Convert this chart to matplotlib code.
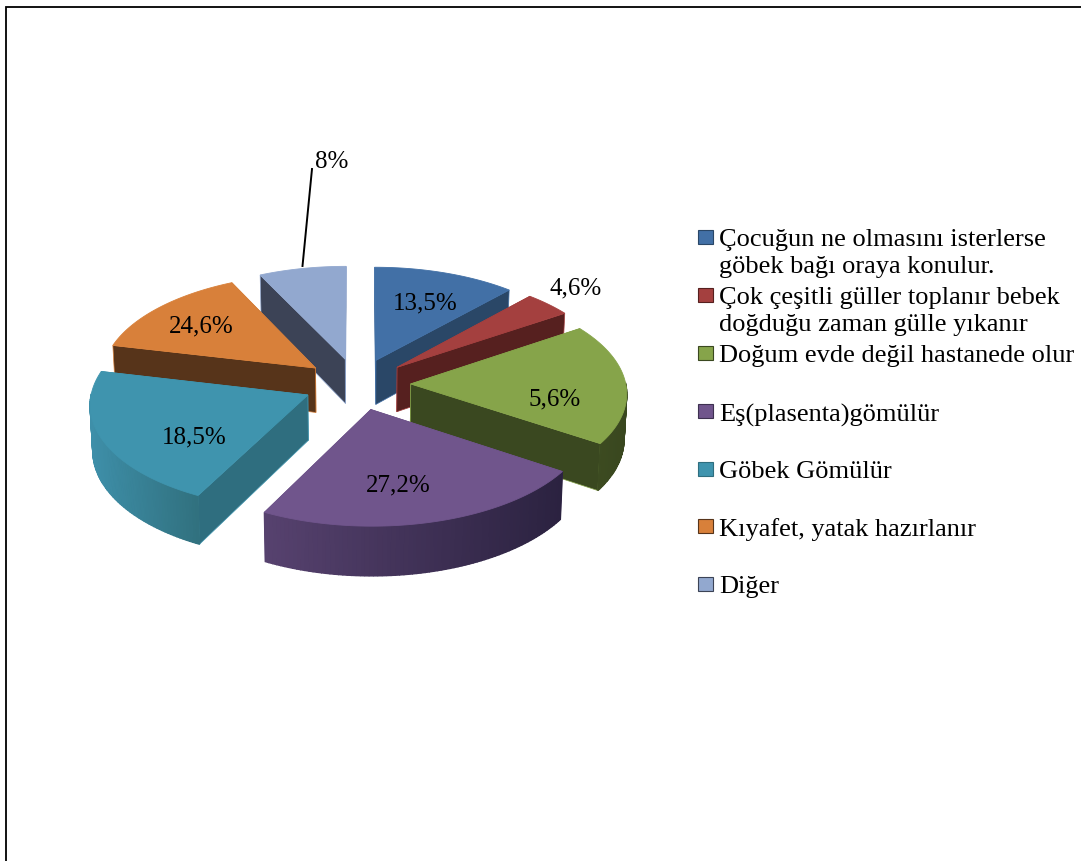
import numpy as np
import matplotlib
matplotlib.use('Agg')
import matplotlib.pyplot as plt
from matplotlib.colors import to_rgb
from matplotlib.patches import Rectangle

plt.rcParams['font.family'] = ['Liberation Serif', 'DejaVu Serif']

# slice sizes as drawn (percent of the circle), the printed labels differ from these
shares = [11.7, 3.9, 18.7, 23.25, 21.1, 14.2, 7.15]
value_labels = ['13,5%', '4,6%', '5,6%', '27,2%', '18,5%', '24,6%', '8%']
legend_labels = [
    'Çocuğun ne olmasını isterlerse\ngöbek bağı oraya konulur.',
    'Çok çeşitli güller toplanır bebek\ndoğduğu zaman gülle yıkanır',
    'Doğum evde değil hastanede olur',
    'Eş(plasenta)gömülür',
    'Göbek Gömülür',
    'Kıyafet, yatak hazırlanır',
    'Diğer',
]

top_colors = ['#4270a6', '#a4403f', '#86a44a', '#70558c', '#3f94ae', '#d8803a', '#92a8cf']
wall_colors = ['#2a4767', '#56201f', '#3a4820', '#3d3050', '#2f6e7f', '#57341a', '#3c4356']
rim_left = ['#2a4767', '#56201f', '#3f4e22', '#57426f', '#3e8fa9', '#57341a', '#3c4356']
rim_right = ['#2a4767', '#56201f', '#39471f', '#2b2240', '#31717f', '#57341a', '#3c4356']
label_xy = [(425.5, 303), (576, 288), (555, 399), (398, 485), (194, 437), (201, 326), (332, 162)]
legend_y = [238, 296, 354, 412, 470, 527, 585]

# back to front
draw_order = [6, 5, 0, 1, 2, 4, 3]

# projection of the tilted pie, in image pixels
cx, cy = 357, 385
rx, ry = 215, 103.6
depth = 45
persp = 0.0765
explode = 0.25
start = 90


def project(u, v, bottom=False):
    s = 1 / (1 - persp * v)
    x = rx * u * s
    y = ry * v * s
    if bottom:
        return cx + x * 0.99, cy + y + depth * s
    return cx + x, cy + y


def mix(c1, c2, t):
    a, b = np.array(to_rgb(c1)), np.array(to_rgb(c2))
    return tuple(a + (b - a) * t)


fig = plt.figure(figsize=(10.81, 8.62), dpi=100)
ax = fig.add_axes([0, 0, 1, 1])
ax.set_xlim(0, 1081)
ax.set_ylim(862, 0)
ax.axis('off')

# frame, only left and top
ax.plot([5.5, 5.5, 1081], [862, 7.5, 7.5], color='black', lw=1.3, solid_joinstyle='miter')

ends = start - np.cumsum(shares) * 3.6
begins = np.concatenate([[start], ends[:-1]])

for n, i in enumerate(draw_order):
    z = 2 + n
    a0, a1 = begins[i], ends[i]
    mid = np.radians((a0 + a1) / 2)
    ou, ov = explode * np.cos(mid), -explode * np.sin(mid)

    th = np.radians(np.linspace(a0, a1, 80))
    u = ou + np.cos(th)
    v = ov - np.sin(th)
    top_x, top_y = project(u, v)
    bot_x, bot_y = project(u, v, True)
    ax_top, ay_top = project(ou, ov)
    ax_bot, ay_bot = project(ou, ov, True)

    # radial walls, the farther one first
    walls = [0, -1] if np.sin(th[0]) > np.sin(th[-1]) else [-1, 0]
    for k in walls:
        ax.fill([ax_top, top_x[k], bot_x[k], ax_bot], [ay_top, top_y[k], bot_y[k], ay_bot],
                facecolor=wall_colors[i], edgecolor=top_colors[i], lw=0.5, zorder=z)

    # curved outer wall, only where it faces the viewer
    x_lo, x_hi = top_x.min(), top_x.max()
    front = np.sin(th) <= 0
    if front.any():
        ax.fill(np.r_[top_x[front], bot_x[front][::-1]], np.r_[top_y[front], bot_y[front][::-1]],
                facecolor=mix(rim_left[i], rim_right[i], 0.5), lw=0, zorder=z)
    for k in range(len(th) - 1):
        if not (front[k] or front[k + 1]):
            continue
        t = (top_x[k] - x_lo) / max(x_hi - x_lo, 1)
        col = mix(rim_left[i], rim_right[i], t)
        ax.fill([top_x[k], top_x[k + 1], bot_x[k + 1], bot_x[k]],
                [top_y[k], top_y[k + 1], bot_y[k + 1], bot_y[k]],
                facecolor=col, edgecolor=col, lw=1.0, zorder=z)

    ax.fill(np.r_[ax_top, top_x], np.r_[ay_top, top_y], facecolor=top_colors[i],
            edgecolor=top_colors[i], lw=0.6, zorder=z)

ax.plot([302.5, 312], [267, 170], color='black', lw=1.4, zorder=20)

for txt, (x, y) in zip(value_labels, label_xy):
    ax.text(x, y, txt, ha='center', va='center', fontsize=18, color='black', zorder=21)

# legend
for i, txt in enumerate(legend_labels):
    ax.add_patch(Rectangle((698, legend_y[i] - 7), 15, 14, facecolor=top_colors[i],
                           edgecolor=wall_colors[i], lw=0.8, zorder=21))
    ax.text(719, legend_y[i] - 8.5, txt, ha='left', va='top', fontsize=19, color='black',
            linespacing=1.29, zorder=21)

fig.savefig('out.png', dpi=100)
